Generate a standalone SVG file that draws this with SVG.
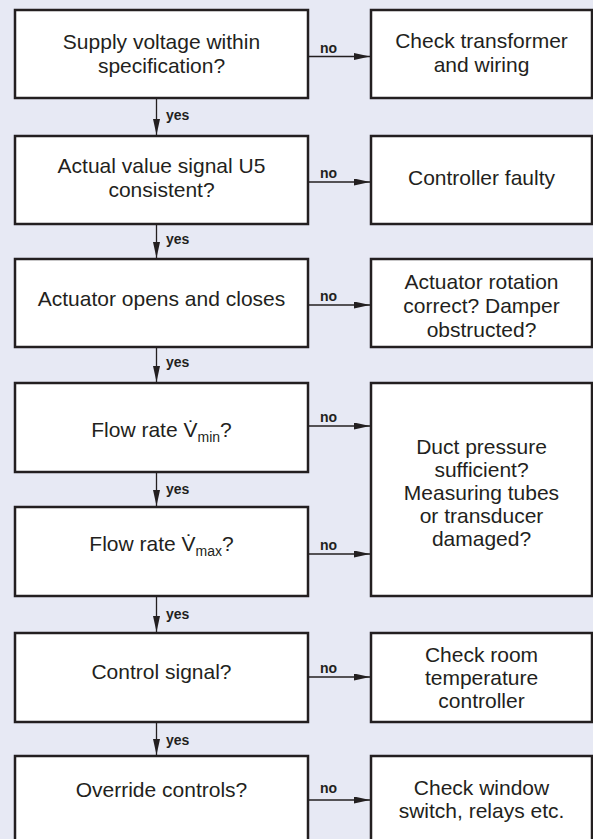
<svg xmlns="http://www.w3.org/2000/svg" width="593" height="839" viewBox="0 0 593 839">
<defs>
<marker id="ah" markerUnits="userSpaceOnUse" markerWidth="16" markerHeight="8" refX="16" refY="3.5" orient="auto">
<path d="M0,0 L16,3.5 L0,7 Z" fill="#231f20"/>
</marker>
<style>
.box{fill:#fff;stroke:#231f20;stroke-width:2.5}
.t{font-family:"Liberation Sans",Arial,sans-serif;font-size:21px;fill:#231f20;text-anchor:middle}
.lb{font-family:"Liberation Sans",Arial,sans-serif;font-size:14px;font-weight:bold;fill:#231f20}
.c{stroke:#231f20;stroke-width:1.3;fill:none;marker-end:url(#ah)}
</style>
</defs>
<rect width="593" height="839" fill="#e7e9f4"/>
<g id="connectors">
<line class="c" x1="308" y1="56.5" x2="370" y2="56.5"/>
<line class="c" x1="308" y1="182" x2="370" y2="182"/>
<line class="c" x1="308" y1="305" x2="370" y2="305"/>
<line class="c" x1="308" y1="426" x2="370" y2="426"/>
<line class="c" x1="308" y1="554" x2="370" y2="554"/>
<line class="c" x1="308" y1="677" x2="370" y2="677"/>
<line class="c" x1="308" y1="800" x2="370" y2="800"/>
<line class="c" x1="156.5" y1="98" x2="156.5" y2="135"/>
<line class="c" x1="156.5" y1="224" x2="156.5" y2="258"/>
<line class="c" x1="156.5" y1="347" x2="156.5" y2="382"/>
<line class="c" x1="156.5" y1="472" x2="156.5" y2="506"/>
<line class="c" x1="156.5" y1="596" x2="156.5" y2="632"/>
<line class="c" x1="156.5" y1="722" x2="156.5" y2="755"/>
<text class="lb" x="320" y="52.5">no</text>
<text class="lb" x="320" y="178">no</text>
<text class="lb" x="320" y="301">no</text>
<text class="lb" x="320" y="422">no</text>
<text class="lb" x="320" y="550">no</text>
<text class="lb" x="320" y="673">no</text>
<text class="lb" x="320" y="793">no</text>
<text class="lb" x="166" y="120">yes</text>
<text class="lb" x="166" y="244">yes</text>
<text class="lb" x="166" y="367">yes</text>
<text class="lb" x="166" y="494">yes</text>
<text class="lb" x="166" y="619">yes</text>
<text class="lb" x="166" y="745">yes</text>
</g>
<g id="n1"><rect class="box" x="15" y="10" width="293" height="88"/>
<text class="t" x="161.5" y="49">Supply voltage within</text><text class="t" x="161.5" y="73">specification?</text></g>
<g id="r1"><rect class="box" x="371" y="10" width="221" height="88"/>
<text class="t" x="481.5" y="48">Check transformer</text><text class="t" x="481.5" y="72">and wiring</text></g>
<g id="n2"><rect class="box" x="15" y="136" width="293" height="88"/>
<text class="t" x="161.5" y="173">Actual value signal U5</text><text class="t" x="161.5" y="197">consistent?</text></g>
<g id="r2"><rect class="box" x="371" y="136" width="221" height="88"/>
<text class="t" x="481.5" y="185">Controller faulty</text></g>
<g id="n3"><rect class="box" x="15" y="259" width="293" height="88"/>
<text class="t" x="161.5" y="306">Actuator opens and closes</text></g>
<g id="r3"><rect class="box" x="371" y="259" width="221" height="88"/>
<text class="t" x="481.5" y="289">Actuator rotation</text><text class="t" x="481.5" y="313">correct? Damper</text><text class="t" x="481.5" y="337">obstructed?</text></g>
<g id="n4"><rect class="box" x="15" y="383" width="293" height="89"/>
<text class="t" x="161.5" y="437">Flow rate V̇<tspan font-size="14" dy="5">min</tspan><tspan dy="-5">?</tspan></text></g>
<g id="n5"><rect class="box" x="15" y="507" width="293" height="89"/>
<text class="t" x="161.5" y="551">Flow rate V̇<tspan font-size="14" dy="5">max</tspan><tspan dy="-5">?</tspan></text></g>
<g id="r45"><rect class="box" x="371" y="383" width="221" height="213"/>
<text class="t" x="481.5" y="454">Duct pressure</text><text class="t" x="481.5" y="477">sufficient?</text><text class="t" x="481.5" y="500">Measuring tubes</text><text class="t" x="481.5" y="523">or transducer</text><text class="t" x="481.5" y="546">damaged?</text></g>
<g id="n6"><rect class="box" x="15" y="633" width="293" height="89"/>
<text class="t" x="161.5" y="679">Control signal?</text></g>
<g id="r6"><rect class="box" x="371" y="633" width="221" height="89"/>
<text class="t" x="481.5" y="662">Check room</text><text class="t" x="481.5" y="685">temperature</text><text class="t" x="481.5" y="708">controller</text></g>
<g id="n7"><rect class="box" x="15" y="756" width="293" height="90"/>
<text class="t" x="161.5" y="797">Override controls?</text></g>
<g id="r7"><rect class="box" x="371" y="756" width="221" height="90"/>
<text class="t" x="481.5" y="795">Check window</text><text class="t" x="481.5" y="818">switch, relays etc.</text></g>
</svg>
